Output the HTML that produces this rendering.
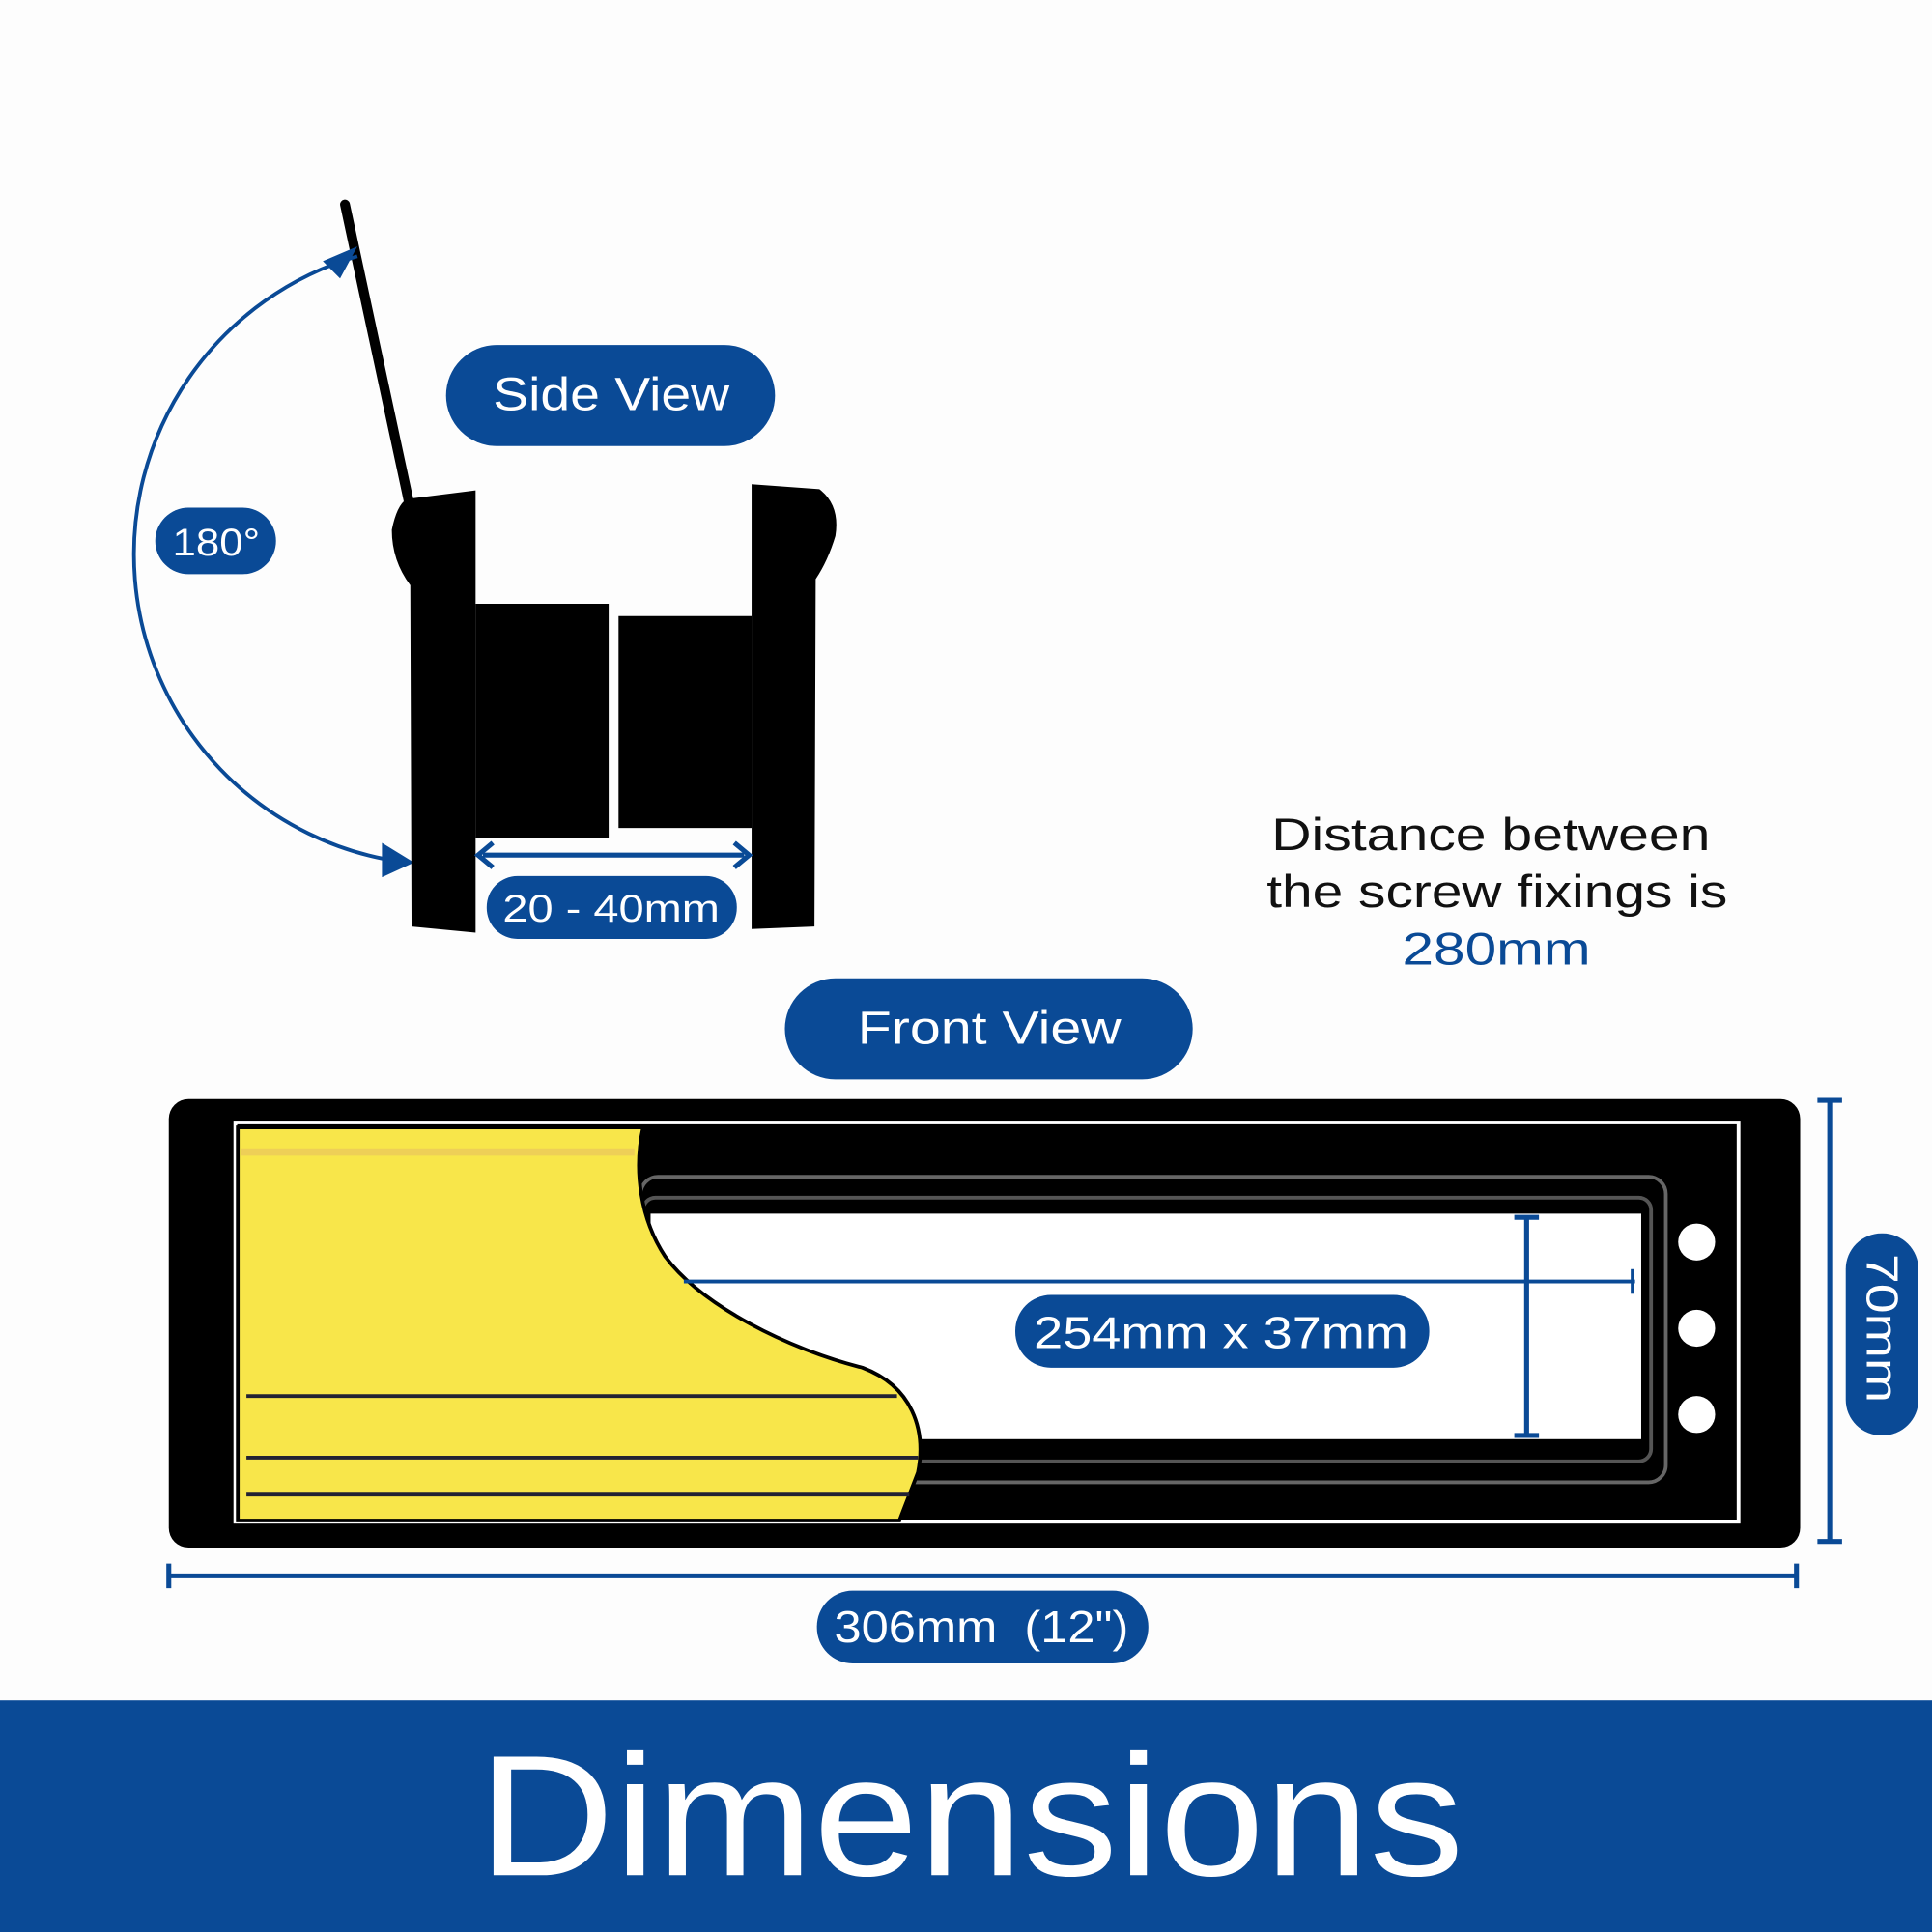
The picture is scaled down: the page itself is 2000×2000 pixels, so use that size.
<!DOCTYPE html>
<html><head><meta charset="utf-8"><style>
html,body{margin:0;padding:0;background:#fdfdfd;}
svg{display:block;}
text{font-family:"Liberation Sans",sans-serif;}
</style></head><body>
<svg width="2000" height="2000" viewBox="0 0 1568 1568" xmlns="http://www.w3.org/2000/svg">
<rect width="1568" height="1568" fill="#fdfdfd"/>

<!-- Side view -->
<line x1="280" y1="166" x2="332" y2="408" stroke="#000" stroke-width="8" stroke-linecap="round"/>
<path d="M290,208 A 252 252 0 0 0 330,700" fill="none" stroke="#0a4a96" stroke-width="3"/>
<polygon points="262,212 290,200 276,226" fill="#0a4a96"/>
<polygon points="310,684 336,700 310,712" fill="#0a4a96"/>
<path d="M330,405 L386,398 L386,757 L334,752 L333,475 Q318,455 318,430 Q322,410 330,405 Z" fill="#000"/>
<rect x="386" y="490" width="108" height="190" fill="#000"/>
<rect x="502" y="500" width="108" height="172" fill="#000"/>
<path d="M610,393 L665,397 Q682,410 678,435 Q672,455 662,470 L661,752 L610,754 Z" fill="#000"/>
<line x1="392" y1="694" x2="604" y2="694" stroke="#0a4a96" stroke-width="4"/>
<path d="M400,684 L388,694 L400,704 M596,684 L608,694 L596,704" fill="none" stroke="#0a4a96" stroke-width="4"/>

<rect x="362" y="280" width="267" height="82" rx="41" fill="#0a4a96"/>
<text x="400" y="333" font-size="38" fill="#fff" textLength="192" lengthAdjust="spacingAndGlyphs">Side View</text>
<rect x="126" y="412" width="98" height="54" rx="27" fill="#0a4a96"/>
<text x="140" y="451" font-size="31" fill="#fff" textLength="71" lengthAdjust="spacingAndGlyphs">180°</text>
<rect x="395" y="711" width="203" height="51" rx="25" fill="#0a4a96"/>
<text x="408" y="748" font-size="31" fill="#fff" textLength="176" lengthAdjust="spacingAndGlyphs">20 - 40mm</text>

<text x="1032" y="690" font-size="37" fill="#111" textLength="356" lengthAdjust="spacingAndGlyphs">Distance between</text>
<text x="1028" y="736" font-size="37" fill="#111" textLength="374" lengthAdjust="spacingAndGlyphs">the screw fixings is</text>
<text x="1138" y="783" font-size="37" fill="#0a4a96" textLength="153" lengthAdjust="spacingAndGlyphs">280mm</text>

<!-- Front view -->
<rect x="637" y="794" width="331" height="82" rx="41" fill="#0a4a96"/>
<text x="696" y="847" font-size="38" fill="#fff" textLength="214" lengthAdjust="spacingAndGlyphs">Front View</text>

<rect x="137" y="892" width="1324" height="364" rx="16" fill="#000"/>
<rect x="191" y="911" width="1220" height="324" fill="none" stroke="#fff" stroke-width="3"/>
<rect x="520" y="955" width="832" height="248" rx="14" fill="none" stroke="#666" stroke-width="3"/>
<rect x="522" y="972" width="818" height="214" rx="10" fill="none" stroke="#555" stroke-width="3"/>
<rect x="528" y="985" width="804" height="183" fill="#fff"/>
<path d="M193,915 L522,915 C514,950 520,990 540,1020 C570,1060 640,1095 700,1110 C740,1125 752,1160 745,1195 L730,1234 L193,1234 Z" fill="#f8e64a" stroke="#000" stroke-width="3"/>
<line x1="196" y1="935" x2="515" y2="935" stroke="#e8c060" stroke-width="6" opacity="0.6"/>
<line x1="200" y1="1133" x2="728" y2="1133" stroke="#223" stroke-width="3"/>
<line x1="200" y1="1183" x2="745" y2="1183" stroke="#223" stroke-width="3"/>
<line x1="200" y1="1213" x2="738" y2="1213" stroke="#223" stroke-width="3"/>
<circle cx="1377" cy="1008" r="15" fill="#fff"/>
<circle cx="1377" cy="1078" r="15" fill="#fff"/>
<circle cx="1377" cy="1148" r="15" fill="#fff"/>

<line x1="555" y1="1040" x2="1327" y2="1040" stroke="#0a4a96" stroke-width="3"/>
<line x1="1325" y1="1030" x2="1325" y2="1050" stroke="#0a4a96" stroke-width="3"/>
<line x1="1239" y1="988" x2="1239" y2="1165" stroke="#0a4a96" stroke-width="4"/>
<line x1="1229" y1="988" x2="1249" y2="988" stroke="#0a4a96" stroke-width="4"/>
<line x1="1229" y1="1165" x2="1249" y2="1165" stroke="#0a4a96" stroke-width="4"/>
<rect x="824" y="1051" width="336" height="59" rx="29" fill="#0a4a96"/>
<text x="839" y="1094" font-size="36" fill="#fff" textLength="304" lengthAdjust="spacingAndGlyphs">254mm x 37mm</text>

<line x1="1485" y1="893" x2="1485" y2="1251" stroke="#0a4a96" stroke-width="4"/>
<line x1="1475" y1="893" x2="1495" y2="893" stroke="#0a4a96" stroke-width="4"/>
<line x1="1475" y1="1251" x2="1495" y2="1251" stroke="#0a4a96" stroke-width="4"/>
<rect x="1498" y="1001" width="59" height="164" rx="29" fill="#0a4a96"/>
<text x="1527" y="1078" font-size="36" fill="#fff" text-anchor="middle" transform="rotate(90 1527 1078)" dy="12" textLength="121" lengthAdjust="spacingAndGlyphs">70mm</text>

<line x1="137" y1="1279" x2="1458" y2="1279" stroke="#0a4a96" stroke-width="4"/>
<line x1="137" y1="1269" x2="137" y2="1289" stroke="#0a4a96" stroke-width="4"/>
<line x1="1458" y1="1269" x2="1458" y2="1289" stroke="#0a4a96" stroke-width="4"/>
<rect x="663" y="1291" width="269" height="59" rx="29" fill="#0a4a96"/>
<text x="677" y="1333" font-size="36" fill="#fff" xml:space="preserve" textLength="239" lengthAdjust="spacingAndGlyphs">306mm  (12")</text>

<!-- Banner -->
<rect x="0" y="1380" width="1568" height="188" fill="#0a4a96"/>
<text x="388" y="1522" font-size="140" fill="#fff" textLength="800" lengthAdjust="spacingAndGlyphs">Dimensions</text>
</svg>
</body></html>
